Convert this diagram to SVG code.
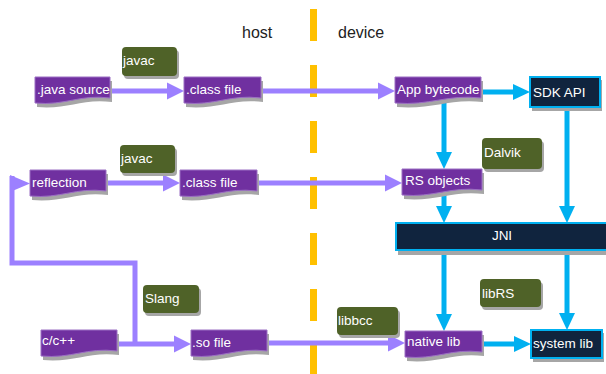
<svg xmlns="http://www.w3.org/2000/svg" width="606" height="374" viewBox="0 0 606 374">
<style>
.t{font-family:"Liberation Sans",Arial,sans-serif;font-size:13.5px;fill:#fff}
.h{font-family:"Liberation Sans",Arial,sans-serif;font-size:16px;fill:#222}
.doc{fill:#7030A0;stroke:#9B6FC3;stroke-width:1}
.sh{fill:#A6A6A6}
.lbl{fill:#4F6228}
.dark{fill:#10243E;stroke:#00B0F0;stroke-width:2}
.pl{stroke:#9C80FF;stroke-width:5;fill:none}
.cl{stroke:#00B0F0;stroke-width:5;fill:none}
.ph{fill:#9C80FF}
.ch{fill:#00B0F0}
</style>
<rect width="606" height="374" fill="#fff"/>
<g id="divider">
<line x1="313.5" y1="9" x2="313.5" y2="374" stroke="#FFC000" stroke-width="7" stroke-dasharray="32 24"/>
<text class="h" x="242" y="38">host</text>
<text class="h" x="338" y="38">device</text>
</g>
<g id="connectors">
<path class="pl" d="M110,91 H168"/><polygon class="ph" points="167,82.5 184,91 167,99.5"/>
<path class="pl" d="M261,91 H379"/><polygon class="ph" points="378,82.5 395,91 378,99.5"/>
<path class="cl" d="M481,92 H514"/><polygon class="ch" points="513,84 530,92 513,100"/>
<path class="pl" d="M106,183 H164"/><polygon class="ph" points="163,174.5 180,183 163,191.5"/>
<path class="pl" d="M257,183 H386"/><polygon class="ph" points="385,174.5 402,183 385,191.5"/>
<path class="cl" d="M444,100 V153"/><polygon class="ch" points="436,152 444,169 452,152"/>
<path class="cl" d="M444,194 V207"/><polygon class="ch" points="436,206 444,223 452,206"/>
<path class="cl" d="M567,107 V207"/><polygon class="ch" points="559,206 567,223 575,206"/>
<path class="cl" d="M444,250 V315"/><polygon class="ch" points="436,314 444,331 452,314"/>
<path class="cl" d="M567,250 V314"/><polygon class="ch" points="559,313 567,330 575,313"/>
<path class="pl" d="M117,344 H175"/><polygon class="ph" points="174,335.5 191,344 174,352.5"/>
<path class="pl" d="M135,344 V263 H12 V176"/><polygon class="ph" points="10,175 30,183.5 10,192"/>
<path class="pl" d="M267,343 H389"/><polygon class="ph" points="388,334.5 405,343 388,351.5"/>
<path class="cl" d="M482,344 H515"/><polygon class="ch" points="514,336 531,344 514,352"/>
</g>
<g id="javac1"><rect class="sh" x="124" y="50" width="55" height="29" rx="4"/><rect class="lbl" x="122" y="47" width="55" height="29" rx="4"/><text class="t" x="123" y="65">javac</text></g>
<g id="javac2"><rect class="sh" x="122" y="148" width="55" height="28" rx="4"/><rect class="lbl" x="120" y="145" width="55" height="28" rx="4"/><text class="t" x="121" y="163">javac</text></g>
<g id="dalvik"><rect class="sh" x="484" y="141" width="60" height="31" rx="4"/><rect class="lbl" x="482" y="138" width="60" height="31" rx="4"/><text class="t" x="484" y="157">Dalvik</text></g>
<g id="slang"><rect class="sh" x="145" y="288" width="56" height="28" rx="4"/><rect class="lbl" x="143" y="285" width="56" height="28" rx="4"/><text class="t" x="145" y="303">Slang</text></g>
<g id="libbcc"><rect class="sh" x="339" y="310" width="61" height="28" rx="4"/><rect class="lbl" x="337" y="307" width="61" height="28" rx="4"/><text class="t" x="338" y="325">libbcc</text></g>
<g id="librs"><rect class="sh" x="482" y="282" width="61" height="28" rx="4"/><rect class="lbl" x="480" y="279" width="61" height="28" rx="4"/><text class="t" x="482" y="298">libRS</text></g>
<g id="java-source"><path class="sh" d="M37,81 H112 V102 C82,98 67,110 37,107 Z"/><path class="doc" d="M35,77 H110 V98 C80,94 65,106 35,103 Z"/><text class="t" x="37" y="94">.java source</text></g>
<g id="class-file-1"><path class="sh" d="M186,81 H263 V102 C232,98 217,110 186,107 Z"/><path class="doc" d="M184,77 H261 V98 C230,94 215,106 184,103 Z"/><text class="t" x="186" y="94">.class file</text></g>
<g id="app-bytecode"><path class="sh" d="M397,81 H483 V102 C449,98 432,110 397,107 Z"/><path class="doc" d="M395,77 H481 V98 C447,94 430,106 395,103 Z"/><text class="t" x="397" y="94">App bytecode</text></g>
<g id="sdk-api"><rect class="sh" x="532" y="80" width="70" height="31"/><rect class="dark" x="530" y="77" width="70" height="30"/><text class="t" x="533" y="97">SDK API</text></g>
<g id="reflection"><path class="sh" d="M32,174 H108 V195 C78,191 62,203 32,200 Z"/><path class="doc" d="M30,170 H106 V191 C76,187 60,199 30,196 Z"/><text class="t" x="32" y="187">reflection</text></g>
<g id="class-file-2"><path class="sh" d="M182,174 H259 V195 C228,191 213,203 182,200 Z"/><path class="doc" d="M180,170 H257 V191 C226,187 211,199 180,196 Z"/><text class="t" x="182" y="187">.class file</text></g>
<g id="rs-objects"><path class="sh" d="M404,173 H484 V194 C452,190 436,202 404,199 Z"/><path class="doc" d="M402,169 H482 V190 C450,186 434,198 402,195 Z"/><text class="t" x="405" y="185">RS objects</text></g>
<g id="jni"><rect class="sh" x="398" y="226" width="212" height="29"/><rect class="dark" x="396" y="223" width="214" height="27"/><text class="t" x="502" y="240" text-anchor="middle">JNI</text></g>
<g id="cpp"><path class="sh" d="M43,334 H119 V355 C89,351 73,363 43,360 Z"/><path class="doc" d="M41,330 H117 V351 C87,347 71,359 41,356 Z"/><text class="t" x="42" y="345">c/c++</text></g>
<g id="so-file"><path class="sh" d="M193,334 H269 V355 C239,351 223,363 193,360 Z"/><path class="doc" d="M191,330 H267 V351 C237,347 221,359 191,356 Z"/><text class="t" x="192" y="347">.so file</text></g>
<g id="native-lib"><path class="sh" d="M407,335 H484 V356 C453,352 438,364 407,361 Z"/><path class="doc" d="M405,331 H482 V352 C451,348 436,360 405,357 Z"/><text class="t" x="407" y="346">native lib</text></g>
<g id="system-lib"><rect class="sh" x="533" y="333" width="71" height="29"/><rect class="dark" x="531" y="330" width="71" height="28"/><text class="t" x="533" y="348">system lib</text></g>
</svg>
